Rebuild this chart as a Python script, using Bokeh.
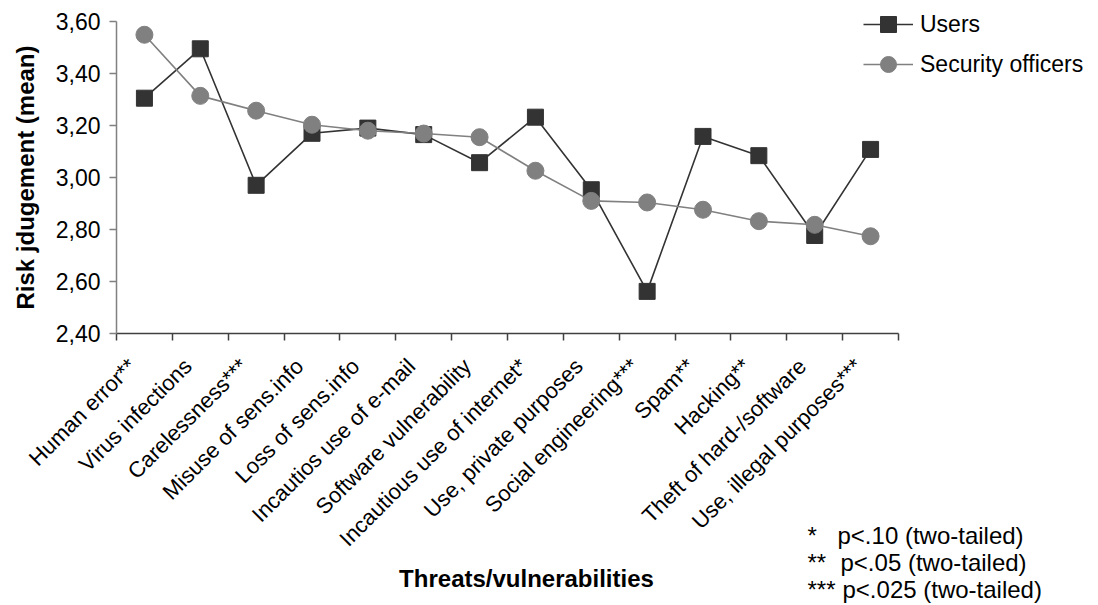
import math
from bokeh.plotting import figure
from bokeh.models import (Range1d, FixedTicker, CustomJSTickFormatter, Legend,
                          LegendItem, Label)
from bokeh.embed import file_html
from bokeh.resources import INLINE

categories = ["Human error**", "Virus infections", "Carelessness***",
              "Misuse of sens.info", "Loss of sens.info", "Incautios use of e-mail",
              "Software vulnerability", "Incautious use of internet*",
              "Use, private purposes", "Social engineering***", "Spam**",
              "Hacking**", "Theft of hard-/software", "Use, illegal purposes***"]
users = [3.305, 3.495, 2.97, 3.17, 3.19, 3.165, 3.057, 3.232, 2.953, 2.562,
         3.158, 3.084, 2.777, 3.108]
officers = [3.549, 3.314, 3.257, 3.203, 3.18, 3.169, 3.155, 3.026, 2.910,
            2.904, 2.876, 2.832, 2.818, 2.774]
y_ticks = [2.4, 2.6, 2.8, 3.0, 3.2, 3.4, 3.6]
y_min, y_max = 2.4, 3.6
series_names = ["Users", "Security officers"]
x_title = "Threats/vulnerabilities"
y_title = "Risk jdugement (mean)"
footnote_marks = ["*", "**", "***"]
footnote_texts = ["p<.10 (two-tailed)", "p<.05 (two-tailed)", "p<.025 (two-tailed)"]

FONT = "Liberation Sans"
n = len(categories)
x = list(range(1, n + 1))

W, H = 1096, 603
# pixel layout of the plotting area inside the canvas
AX_LEFT, AX_RIGHT = 116, 898      # x pixels of the category axis ends
AX_TOP, AX_BOTTOM = 21, 333       # y pixels of y_max / y_min
ppx = (AX_RIGHT - AX_LEFT) / n                  # pixels per category
ppy = (AX_BOTTOM - AX_TOP) / (y_max - y_min)    # pixels per unit
x_start = 0.5 - AX_LEFT / ppx
x_end = 0.5 + (W - AX_LEFT) / ppx
y_end = y_max + AX_TOP / ppy
y_start = y_max - (H - AX_TOP) / ppy

p = figure(width=W, height=H, output_backend="svg", toolbar_location=None,
           x_range=Range1d(x_start, x_end), y_range=Range1d(y_start, y_end),
           min_border=0, min_border_left=0, min_border_right=0,
           min_border_top=0, min_border_bottom=0)
p.outline_line_color = None
p.xgrid.grid_line_color = None
p.ygrid.grid_line_color = None
p.background_fill_color = "white"
p.border_fill_color = "white"

# x axis (drawn at y = y_min)
xa = p.xaxis[0]
xa.fixed_location = y_min
xa.bounds = (0.5, n + 0.5)
xa.ticker = FixedTicker(ticks=[i - 0.22 for i in x],
                        minor_ticks=[i + 0.5 for i in range(0, n + 1)])
xa.formatter = CustomJSTickFormatter(args=dict(labels=categories),
                                     code="return labels[Math.round(tick) - 1];")
xa.major_label_orientation = math.pi / 4
xa.major_tick_line_color = None
xa.major_tick_out = 7
xa.major_tick_in = 0
xa.minor_tick_line_color = "#404040"
xa.minor_tick_line_width = 1.5
xa.minor_tick_out = 7
xa.minor_tick_in = 0
xa.axis_line_color = "#404040"
xa.axis_line_width = 1.5
xa.major_label_standoff = 22
xa.major_label_text_font = FONT
xa.major_label_text_font_size = "22px"
xa.major_label_text_color = "black"

# y axis (drawn at x = 0.5)
ya = p.yaxis[0]
ya.fixed_location = 0.5
ya.bounds = (y_min, y_max)
ya.ticker = FixedTicker(ticks=y_ticks)
ya.formatter = CustomJSTickFormatter(code="return tick.toFixed(2).replace('.', ',');")
ya.axis_line_color = "#808080"
ya.axis_line_width = 1.5
ya.major_tick_line_color = "#808080"
ya.major_tick_line_width = 1.5
ya.major_tick_out = 7
ya.major_tick_in = 0
ya.minor_tick_line_color = None
ya.major_label_standoff = 9
ya.major_label_text_font = FONT
ya.major_label_text_font_size = "23px"
ya.major_label_text_color = "black"

# series
ru = p.line(x, users, line_color="#333333", line_width=1.6)
su = p.scatter(x, users, marker="square", size=16, fill_color="#333333",
               line_color="#333333")
ro = p.line(x, officers, line_color="#808080", line_width=1.6)
so = p.scatter(x, officers, marker="circle", size=17, fill_color="#808080",
               line_color="#808080")

legend = Legend(items=[LegendItem(label=series_names[0], renderers=[ru, su]),
                       LegendItem(label=series_names[1], renderers=[ro, so])],
                location=(863, H - 4 - 80), orientation="vertical", glyph_width=50,
                glyph_height=40, label_height=40, spacing=0, padding=0,
                label_standoff=7, border_line_color=None, background_fill_alpha=0,
                label_text_font=FONT, label_text_font_size="23px",
                label_text_color="black")
p.add_layout(legend)

# axis titles
p.add_layout(Label(x=25, y=(y_min + y_max) / 2, x_units="screen", y_units="data",
                   text=y_title, angle=math.pi / 2, text_align="center",
                   text_baseline="middle", text_font=FONT, text_font_style="bold",
                   text_font_size="24px", text_color="black"))
p.add_layout(Label(x=526, y=H - 578, x_units="screen", y_units="screen", text=x_title,
                   text_align="center", text_baseline="middle", text_font=FONT,
                   text_font_style="bold", text_font_size="24px", text_color="black"))

# footnotes
fy = [535, 562, 589]
fx_text = [837, 840, 842]
for i in range(3):
    p.add_layout(Label(x=807, y=H - fy[i], x_units="screen", y_units="screen",
                       text=footnote_marks[i], text_align="left", text_baseline="middle",
                       text_font=FONT, text_font_size="24px", text_color="black"))
    p.add_layout(Label(x=fx_text[i], y=H - fy[i], x_units="screen", y_units="screen",
                       text=footnote_texts[i], text_align="left", text_baseline="middle",
                       text_font=FONT, text_font_size="24px", text_color="black"))

open("out.html", "w").write(file_html(p, INLINE))
